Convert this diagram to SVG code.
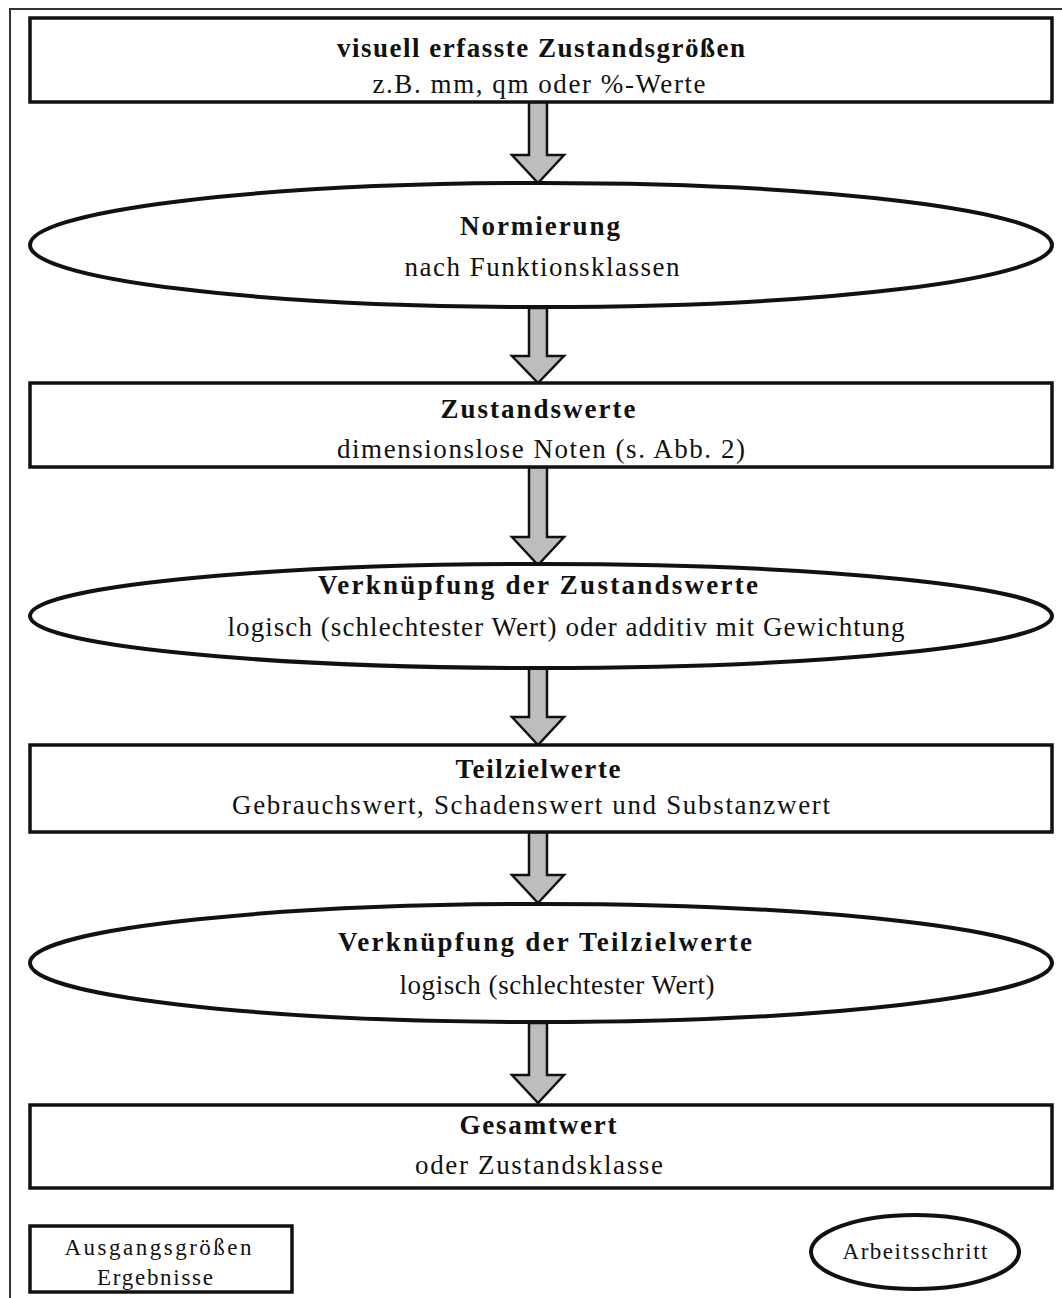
<svg xmlns="http://www.w3.org/2000/svg" width="1062" height="1298" viewBox="0 0 1062 1298">
<style>
.frame{fill:none;stroke:#333;stroke-width:2}
.box{fill:#fff;stroke:#111;stroke-width:3.5}
.ell{fill:#fff;stroke:#111;stroke-width:4}
.arr{fill:#bdbdbd;stroke:#111;stroke-width:2.5;stroke-linejoin:miter}
text{font-family:"Liberation Serif","Times New Roman",serif;fill:#111;text-anchor:middle}
.t{font-size:27px;font-weight:bold}
.s{font-size:27px}
.l{font-size:23px}
</style>
<rect width="1062" height="1298" fill="#fff"/>
<g id="frame">
<polyline class="frame" points="10,1298 10,9 1062,9"/>
</g>
<g id="connectors">
<polygon class="arr" points="529,102 547,102 547,155 564,155 538,183 512,155 529,155"/>
<polygon class="arr" points="529,308 547,308 547,356 564,356 538,383 512,356 529,356"/>
<polygon class="arr" points="529,467 547,467 547,537 564,537 538,565 512,537 529,537"/>
<polygon class="arr" points="529,668 547,668 547,717 564,717 538,745 512,717 529,717"/>
<polygon class="arr" points="529,832 547,832 547,875 564,875 538,903 512,875 529,875"/>
<polygon class="arr" points="529,1023 547,1023 547,1075 564,1075 538,1103 512,1075 529,1075"/>
</g>
<g id="n1">
<rect class="box" x="30" y="18" width="1022" height="84"/>
<text class="t" x="541" y="57" textLength="408" lengthAdjust="spacing">visuell erfasste Zustandsgrößen</text>
<text class="s" x="539" y="93" textLength="333" lengthAdjust="spacing">z.B. mm, qm oder %-Werte</text>
</g>
<g id="n2">
<ellipse class="ell" cx="541" cy="245" rx="511" ry="62"/>
<text class="t" x="540" y="235" textLength="160" lengthAdjust="spacing">Normierung</text>
<text class="s" x="542" y="276" textLength="275" lengthAdjust="spacing">nach Funktionsklassen</text>
</g>
<g id="n3">
<rect class="box" x="30" y="383" width="1022" height="84"/>
<text class="t" x="538" y="418" textLength="195" lengthAdjust="spacing">Zustandswerte</text>
<text class="s" x="541" y="458" textLength="408" lengthAdjust="spacing">dimensionslose Noten (s. Abb. 2)</text>
</g>
<g id="n4">
<ellipse class="ell" cx="541" cy="616" rx="511" ry="52"/>
<text class="t" x="538" y="594" textLength="440" lengthAdjust="spacing">Verknüpfung der Zustandswerte</text>
<text class="s" x="566" y="636" textLength="677" lengthAdjust="spacing">logisch (schlechtester Wert) oder additiv mit Gewichtung</text>
</g>
<g id="n5">
<rect class="box" x="30" y="745" width="1022" height="87"/>
<text class="t" x="538" y="778" textLength="165" lengthAdjust="spacing">Teilzielwerte</text>
<text class="s" x="531" y="814" textLength="598" lengthAdjust="spacing">Gebrauchswert, Schadenswert und Substanzwert</text>
</g>
<g id="n6">
<ellipse class="ell" cx="541" cy="963" rx="511" ry="59"/>
<text class="t" x="545" y="951" textLength="414" lengthAdjust="spacing">Verknüpfung der Teilzielwerte</text>
<text class="s" x="557" y="994" textLength="315" lengthAdjust="spacing">logisch (schlechtester Wert)</text>
</g>
<g id="n7">
<rect class="box" x="30" y="1105" width="1022" height="83"/>
<text class="t" x="538" y="1134" textLength="157" lengthAdjust="spacing">Gesamtwert</text>
<text class="s" x="539" y="1174" textLength="248" lengthAdjust="spacing">oder Zustandsklasse</text>
</g>
<g id="legend-box">
<rect class="box" x="30" y="1226" width="262" height="66"/>
<text class="l" x="158" y="1255" textLength="187" lengthAdjust="spacing">Ausgangsgrößen</text>
<text class="l" x="155" y="1285" textLength="116" lengthAdjust="spacing">Ergebnisse</text>
</g>
<g id="legend-ellipse">
<ellipse class="ell" cx="915" cy="1252" rx="104" ry="37"/>
<text class="l" x="915" y="1259" textLength="145" lengthAdjust="spacing">Arbeitsschritt</text>
</g>
</svg>
